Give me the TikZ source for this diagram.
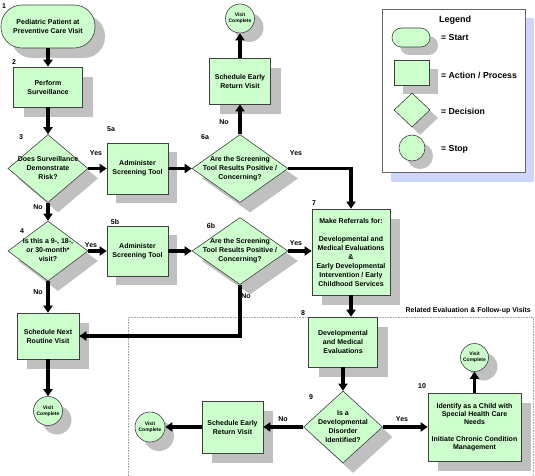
\documentclass[tikz,border=0pt]{standalone}
\usepackage{fontspec}
\setmainfont{Liberation Sans}
\usetikzlibrary{arrows.meta,shapes.geometric,shadows}
\definecolor{boxgreen}{RGB}{204,255,204}
\definecolor{shadegray}{RGB}{192,192,192}
\definecolor{legendblue}{RGB}{206,214,252}
\def\dtext#1{\smash{\raisebox{-1.8pt}{\makebox[0pt]{\begin{tabular}{@{}c@{}}#1\end{tabular}}}}}
\tikzset{
  flow/.style={draw=black!75, fill=boxgreen, line width=0.6pt, inner sep=0pt, align=center,
    font=\fontsize{7}{9}\selectfont\bfseries,
    drop shadow={shadow xshift=#1pt, shadow yshift=-#1pt, fill=shadegray, draw=none, opacity=1}},
  flow/.default=10,
  dec/.style={flow=#1, diamond},
  dec/.default=10,
  stop/.style={flow=#1, circle, minimum size=29pt, font=\fontsize{5}{6}\selectfont\bfseries},
  stop/.default=9,
  num/.style={inner sep=0pt, font=\fontsize{7}{8}\selectfont\bfseries},
  legtext/.style={anchor=west, inner sep=0pt, font=\fontsize{8.7}{10}\selectfont\bfseries},
  arr/.style={line width=3.2pt, -{Triangle[length=7pt,width=9pt]}},
}

\begin{document}
\begin{tikzpicture}[x=1pt,y=-1pt]
		\useasboundingbox (0,0) rectangle (535,476);
		
		%%%%% LEGEND %%%%%
		\fill[legendblue] (391,18) rectangle (534,182);
		\draw[fill=white, draw=black!60, line width=0.6pt] (382,9) rectangle (525,172);
		\node[font=\fontsize{9}{10}\selectfont\bfseries] (legtitle) at (455,20) {Legend};
		\node[flow=8, rounded corners=9.5pt, minimum width=38pt, minimum height=19pt] (legstart) at (411,37.5) {};
		\node[flow=9, minimum width=35pt, minimum height=25pt] (legact) at (411.5,72.5) {};
		\node[dec=8, minimum width=36pt, minimum height=34pt] (legdec) at (412,110) {};
		\node[stop=8, minimum size=26pt] (legstop) at (412,148) {};
		\node[legtext] (legstarttxt) at (441,38) {= Start};
		\node[legtext] (legacttxt) at (441,75) {= Action / Process};
		\node[legtext] (legdectxt) at (441,111) {= Decision};
		\node[legtext] (legstoptxt) at (441,149) {= Stop};
		
		%%%%% RELATED VISITS AREA %%%%%
		\draw[black!35, densely dotted, line width=0.6pt] (128,476) -- (128,317) -- (533,317) -- (533,476);
		\node[num, anchor=base east] (related) at (531,312) {Related Evaluation \& Follow-up Visits};
		
		%%%%% SHAPES %%%%%
		\node[flow, rounded corners=21pt, minimum width=94pt, minimum height=43pt] (start) at (48,26.5) {Pediatric Patient at\\Preventive Care Visit};
		\node[flow, minimum width=69pt, minimum height=40pt] (surv) at (48,87) {Perform\\Surveillance};
		\node[dec, minimum width=80pt, minimum height=68pt] (risk) at (48,168.5) {\dtext{Does Surveillance\\Demonstrate\\Risk?}};
		\node[dec, minimum width=80pt, minimum height=60pt] (age) at (48,251) {\dtext{Is this a 9-, 18-,\\or 30-month*\\visit?}};
		\node[flow=9, minimum width=61pt, minimum height=51pt] (toolA) at (137.5,168.5) {Administer\\Screening Tool};
		\node[flow=9, minimum width=61pt, minimum height=50pt] (toolB) at (137.5,251) {Administer\\Screening Tool};
		\node[dec, minimum width=96pt, minimum height=68pt] (posA) at (240,168.5) {\dtext{Are the Screening\\Tool Results Positive /\\Concerning?}};
		\node[dec, minimum width=96pt, minimum height=67pt] (posB) at (240,251) {\dtext{Are the Screening\\Tool Results Positive /\\Concerning?}};
		\node[flow, minimum width=61pt, minimum height=46pt] (earlyA) at (240,81) {Schedule Early\\Return Visit};
		\node[stop] (doneA) at (240,18.5) {Visit\\Complete};
		\node[flow, minimum width=78pt, minimum height=86pt] (refer) at (351,252) {Make Referrals for:\\[9pt]Developmental and\\Medical Evaluations\\\&\\Early Developmental\\Intervention / Early\\Childhood Services};
		\node[flow, minimum width=62pt, minimum height=46pt] (routine) at (48,336) {Schedule Next\\Routine Visit};
		\node[stop] (doneB) at (48,411) {Visit\\Complete};
		\node[flow, minimum width=69pt, minimum height=50pt] (deval) at (343,342) {Developmental\\and Medical\\Evaluations};
		\node[dec, minimum width=79pt, minimum height=72pt] (disorder) at (343,427) {\dtext{Is a\\Developmental\\Disorder\\Identified?}};
		\node[flow, minimum width=61pt, minimum height=52pt] (earlyB) at (232.5,427) {Schedule Early\\Return Visit};
		\node[stop, minimum size=30pt] (doneC) at (150,427) {Visit\\Complete};
		\node[flow, minimum width=93pt, minimum height=68pt, font=\fontsize{7}{8.2}\selectfont\bfseries] (cshcn) at (474.5,427) {Identify as a Child with\\Special Health Care\\Needs\\[8.2pt]Initiate Chronic Condition\\Management};
		\node[stop, minimum size=28pt] (doneD) at (474.5,357.5) {Visit\\Complete};
		
		%%%%% STEP NUMBERS %%%%%
		\node[num] (n1) at (4,6) {1};
		\node[num] (n2) at (14,62) {2};
		\node[num] (n3) at (21,137) {3};
		\node[num] (n4) at (22,231) {4};
		\node[num] (n5a) at (111,129) {5a};
		\node[num] (n5b) at (115,222) {5b};
		\node[num] (n6a) at (205,137) {6a};
		\node[num] (n6b) at (211,226) {6b};
		\node[num] (n7) at (314,203) {7};
		\node[num] (n8) at (303,313) {8};
		\node[num] (n9) at (311,397) {9};
		\node[num] (n10) at (422,386) {10};
		
		%%%%% YES / NO %%%%%
		\node[num] (yes3) at (96,153) {Yes};
		\node[num] (no3) at (38,207) {No};
		\node[num] (yes4) at (91,245) {Yes};
		\node[num] (no4) at (38,292) {No};
		\node[num] (no6a) at (224,122) {No};
		\node[num] (yes6a) at (296,153) {Yes};
		\node[num] (yes6b) at (296,243) {Yes};
		\node[num] (no6b) at (246,296) {No};
		\node[num] (no9) at (283,419) {No};
		\node[num] (yes9) at (402,419) {Yes};
		
		%%%%% ARROWS %%%%%
		\draw[arr] (start) -- (surv);
		\draw[arr] (surv) -- (risk);
		\draw[arr] (risk) -- (toolA);
		\draw[arr] (toolA) -- (posA);
		\draw[arr] (posA) -- (earlyA);
		\draw[arr] (earlyA) -- (doneA);
		\draw[arr] (posA) -| (refer);
		\draw[arr] (risk) -- (age);
		\draw[arr] (age) -- (toolB);
		\draw[arr] (toolB) -- (posB);
		\draw[arr] (posB.east) -- (posB.east -| refer.west);
		\draw[arr] (posB) |- (routine);
		\draw[arr] (age) -- (routine);
		\draw[arr] (routine) -- (doneB);
		\draw[arr] (refer.south) -- (refer.south |- deval.north);
		\draw[arr] (deval) -- (disorder);
		\draw[arr] (disorder) -- (earlyB);
		\draw[arr] (earlyB) -- (doneC);
		\draw[arr] (disorder) -- (cshcn);
		\draw[arr] (cshcn) -- (doneD);
		
	\end{tikzpicture}
\end{document}
